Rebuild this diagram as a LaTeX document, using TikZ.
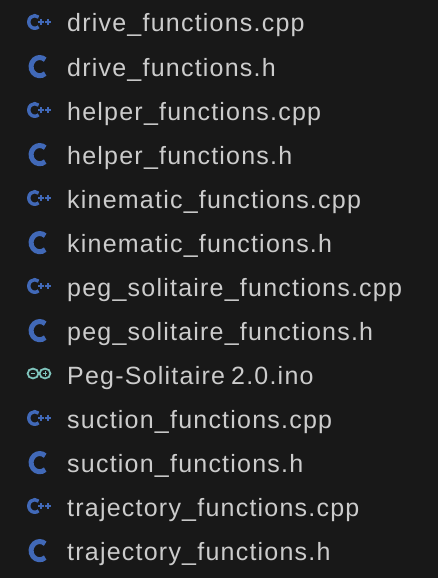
\documentclass[tikz,border=0pt]{standalone}
\usepackage{fontspec}
\setmainfont[LetterSpace=4.9,WordSpace=0.75]{Liberation Sans}
\definecolor{bgc}{HTML}{181818}
\definecolor{txt}{HTML}{CCCCCC}
\definecolor{cblue}{HTML}{4169B8}
\definecolor{teal}{HTML}{7FC4BC}
\tikzset{
  x=1pt,y=-1pt,
  fname/.style={anchor=base west,inner sep=0pt,text=txt,font=\fontsize{25}{28}\selectfont},
  cpparc/.style={draw=cblue,line width=3.4pt},
  carc/.style={draw=cblue,line width=5pt},
  plusl/.style={draw=cblue,line width=1.8pt},
  inol/.style={draw=teal,line width=1.8pt}
}
\newcommand{\cppicon}[1]{%
  \begin{scope}[shift={(0,#1)}]
    \draw[cpparc] (38.6,3.8) arc[start angle=50,end angle=310,x radius=6,y radius=6.3];
    \foreach \px in {40.8,48}{
      \draw[plusl] (\px-2.8,-1) -- (\px+2.8,-1);
      \draw[plusl] (\px,-3.8) -- (\px,1.8);
    }
  \end{scope}}
\newcommand{\cicon}[1]{%
  \begin{scope}[shift={(0,#1)}]
    \draw[carc] (45.2,6.6) arc[start angle=50,end angle=310,x radius=8.6,y radius=9.1];
  \end{scope}}
\newcommand{\inoicon}[1]{%
  \begin{scope}[shift={(0,#1)}]
    \draw[inol] (33,-1.5) ellipse[x radius=5.4,y radius=4.9];
    \draw[inol] (45,-1.5) ellipse[x radius=5.4,y radius=4.9];
    \draw[draw=teal,line width=1pt] (30.7,-1.5) -- (35.3,-1.5);
    \draw[draw=teal,line width=1pt] (42.7,-1.5) -- (47.3,-1.5) (45,-3.8) -- (45,0.8);
  \end{scope}}
\begin{document}
\begin{tikzpicture}
\path[fill=bgc] (0,0) rectangle (438,578);
\useasboundingbox (0,0) rectangle (438,578);
\cppicon{23}
\node[fname] (f1) at (67,32) {drive\_functions.cpp};
\cicon{67}
\node[fname] (f2) at (67,76) {drive\_functions.h};
\cppicon{111}
\node[fname] (f3) at (67,120) {helper\_functions.cpp};
\cicon{155}
\node[fname] (f4) at (67,164) {helper\_functions.h};
\cppicon{199}
\node[fname] (f5) at (67,208) {kinematic\_functions.cpp};
\cicon{243}
\node[fname] (f6) at (67,252) {kinematic\_functions.h};
\cppicon{287}
\node[fname] (f7) at (67,296) {peg\_solitaire\_functions.cpp};
\cicon{331}
\node[fname] (f8) at (67,340) {peg\_solitaire\_functions.h};
\inoicon{375}
\node[fname] (f9) at (67,384) {Peg-Solitaire 2.0.ino};
\cppicon{419}
\node[fname] (f10) at (67,428) {suction\_functions.cpp};
\cicon{463}
\node[fname] (f11) at (67,472) {suction\_functions.h};
\cppicon{507}
\node[fname] (f12) at (67,516) {trajectory\_functions.cpp};
\cicon{551}
\node[fname] (f13) at (67,560) {trajectory\_functions.h};
\end{tikzpicture}
\end{document}
